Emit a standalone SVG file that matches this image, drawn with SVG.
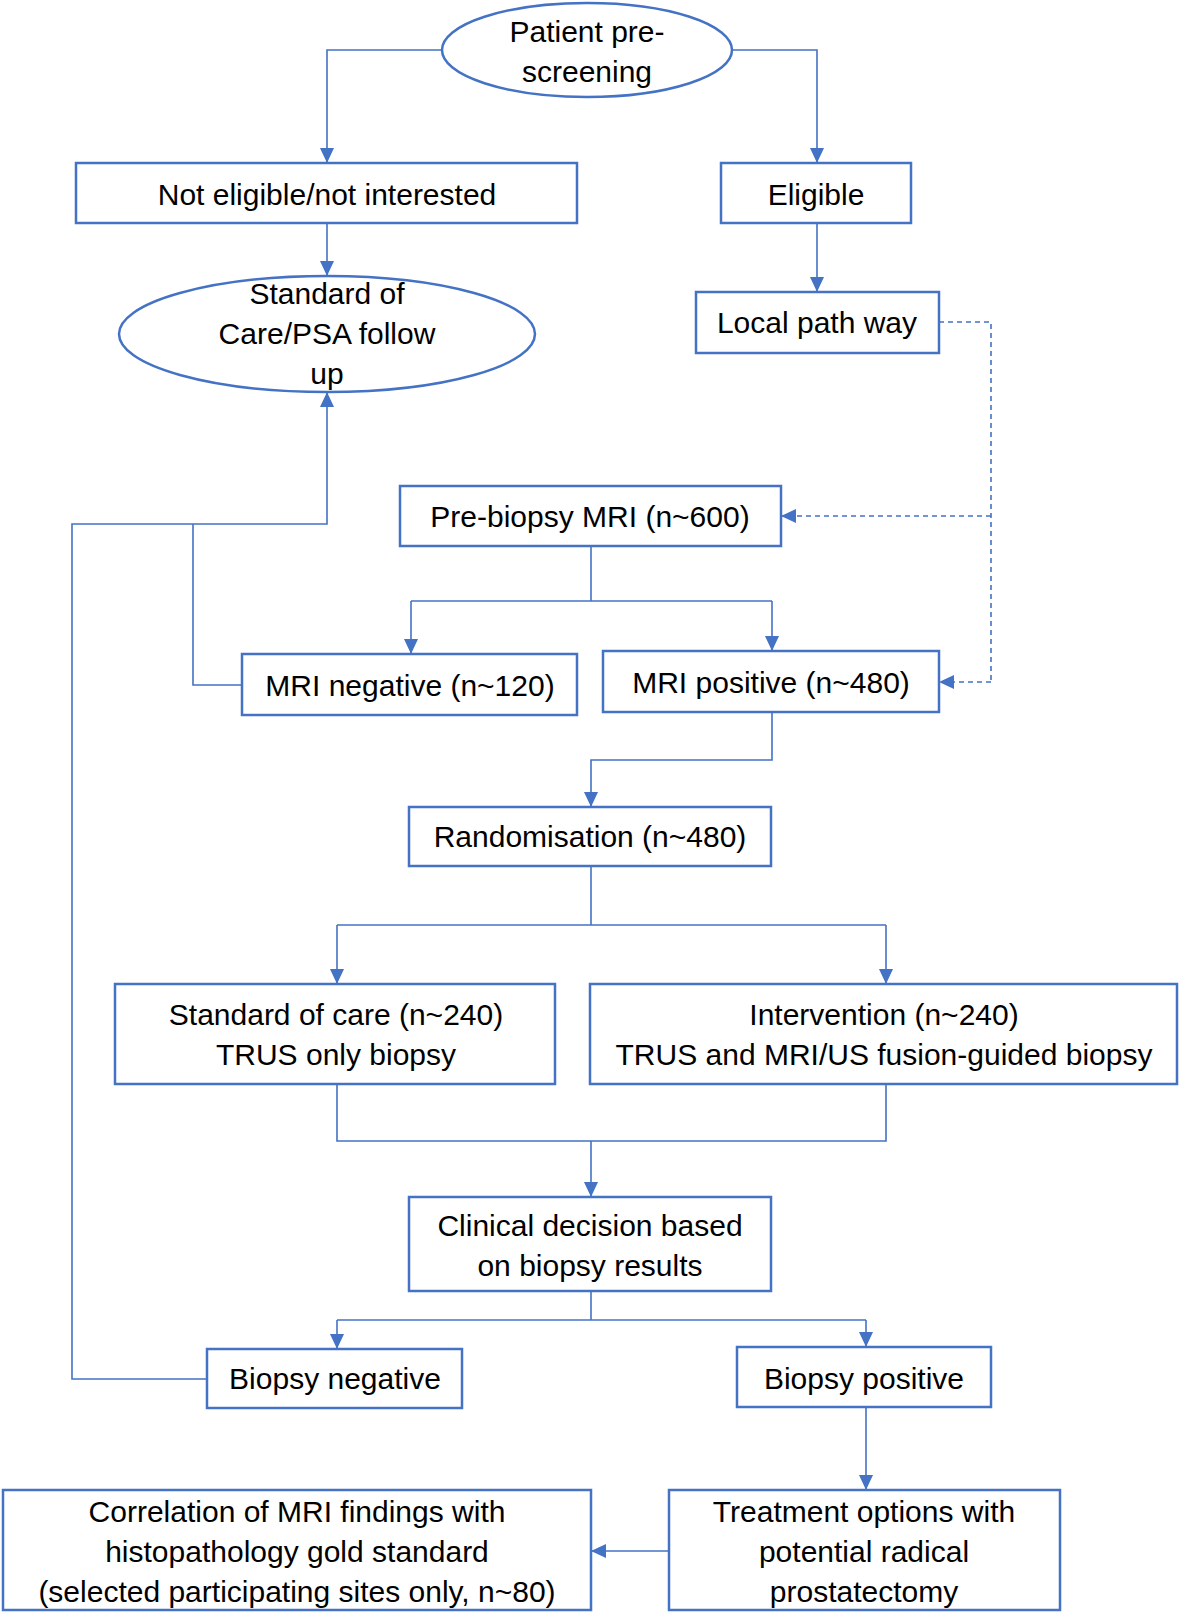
<svg xmlns="http://www.w3.org/2000/svg" width="1181" height="1615" viewBox="0 0 1181 1615">
<style>
.box{fill:#fff;stroke:#4472C4;stroke-width:2.5}
.t{font-family:"Liberation Sans",Arial,sans-serif;font-size:30px;fill:#000;text-anchor:middle;dominant-baseline:central}
.c{fill:none;stroke:#4472C4;stroke-width:1.6}
.d{fill:none;stroke:#4472C4;stroke-width:1.6;stroke-dasharray:5,4}
</style>
<defs>
<marker id="ah" markerUnits="userSpaceOnUse" markerWidth="15" markerHeight="14" viewBox="0 0 15 14" refX="15" refY="7" orient="auto">
<path d="M0,0 L15,7 L0,14 Z" fill="#4472C4"/>
</marker>
</defs>
<rect width="1181" height="1615" fill="#fff"/>
<g id="connectors">
<polyline class="c" points="442,50 327,50 327,163" marker-end="url(#ah)"/>
<polyline class="c" points="732,50 817,50 817,163" marker-end="url(#ah)"/>
<polyline class="c" points="327,223 327,276" marker-end="url(#ah)"/>
<polyline class="c" points="817,223 817,292" marker-end="url(#ah)"/>
<polyline class="d" points="939,322 991,322 991,682"/>
<polyline class="d" points="991,516 781,516" marker-end="url(#ah)"/>
<polyline class="d" points="991,682 939,682" marker-end="url(#ah)"/>
<polyline class="c" points="591,546 591,601"/>
<polyline class="c" points="411,601 772,601"/>
<polyline class="c" points="411,601 411,654" marker-end="url(#ah)"/>
<polyline class="c" points="772,601 772,651" marker-end="url(#ah)"/>
<polyline class="c" points="242,685 193,685 193,524"/>
<polyline class="c" points="207,1379 72,1379 72,524 327,524 327,392" marker-end="url(#ah)"/>
<polyline class="c" points="772,712 772,760 591,760 591,807" marker-end="url(#ah)"/>
<polyline class="c" points="591,866 591,925"/>
<polyline class="c" points="337,925 886,925"/>
<polyline class="c" points="337,925 337,984" marker-end="url(#ah)"/>
<polyline class="c" points="886,925 886,984" marker-end="url(#ah)"/>
<polyline class="c" points="337,1084 337,1141 886,1141 886,1084"/>
<polyline class="c" points="591,1141 591,1197" marker-end="url(#ah)"/>
<polyline class="c" points="591,1291 591,1320"/>
<polyline class="c" points="337,1320 866,1320"/>
<polyline class="c" points="337,1320 337,1349" marker-end="url(#ah)"/>
<polyline class="c" points="866,1320 866,1347" marker-end="url(#ah)"/>
<polyline class="c" points="866,1407 866,1490" marker-end="url(#ah)"/>
<polyline class="c" points="669,1551 591,1551" marker-end="url(#ah)"/>
</g>
<g id="n-prescreen">
<ellipse class="box" cx="587" cy="50" rx="145" ry="47"/>
<text class="t" x="587" y="31">Patient pre-</text>
<text class="t" x="587" y="71">screening</text>
</g>
<g id="n-noteligible">
<rect class="box" x="76" y="163" width="501" height="60"/>
<text class="t" x="327" y="194">Not eligible/not interested</text>
</g>
<g id="n-eligible">
<rect class="box" x="721" y="163" width="190" height="60"/>
<text class="t" x="816" y="194">Eligible</text>
</g>
<g id="n-soc-followup">
<ellipse class="box" cx="327" cy="334" rx="208" ry="58"/>
<text class="t" x="327" y="293">Standard of</text>
<text class="t" x="327" y="333">Care/PSA follow</text>
<text class="t" x="327" y="373">up</text>
</g>
<g id="n-localpath">
<rect class="box" x="696" y="292" width="243" height="61"/>
<text class="t" x="817" y="322">Local path way</text>
</g>
<g id="n-prebiopsy">
<rect class="box" x="400" y="486" width="381" height="60"/>
<text class="t" x="590" y="516">Pre-biopsy MRI (n~600)</text>
</g>
<g id="n-mrineg">
<rect class="box" x="242" y="654" width="335" height="61"/>
<text class="t" x="410" y="685">MRI negative (n~120)</text>
</g>
<g id="n-mripos">
<rect class="box" x="603" y="651" width="336" height="61"/>
<text class="t" x="771" y="682">MRI positive (n~480)</text>
</g>
<g id="n-random">
<rect class="box" x="409" y="807" width="362" height="59"/>
<text class="t" x="590" y="836">Randomisation (n~480)</text>
</g>
<g id="n-soc">
<rect class="box" x="115" y="984" width="440" height="100"/>
<text class="t" x="336" y="1014">Standard of care (n~240)</text>
<text class="t" x="336" y="1054">TRUS only biopsy</text>
</g>
<g id="n-intervention">
<rect class="box" x="590" y="984" width="587" height="100"/>
<text class="t" x="884" y="1014">Intervention (n~240)</text>
<text class="t" x="884" y="1054">TRUS and MRI/US fusion-guided biopsy</text>
</g>
<g id="n-clinical">
<rect class="box" x="409" y="1197" width="362" height="94"/>
<text class="t" x="590" y="1225">Clinical decision based</text>
<text class="t" x="590" y="1265">on biopsy results</text>
</g>
<g id="n-bxneg">
<rect class="box" x="207" y="1349" width="255" height="59"/>
<text class="t" x="335" y="1378">Biopsy negative</text>
</g>
<g id="n-bxpos">
<rect class="box" x="737" y="1347" width="254" height="60"/>
<text class="t" x="864" y="1378">Biopsy positive</text>
</g>
<g id="n-correlation">
<rect class="box" x="3" y="1490" width="588" height="120"/>
<text class="t" x="297" y="1511">Correlation of MRI findings with</text>
<text class="t" x="297" y="1551">histopathology gold standard</text>
<text class="t" x="297" y="1591">(selected participating sites only, n~80)</text>
</g>
<g id="n-treatment">
<rect class="box" x="669" y="1490" width="391" height="120"/>
<text class="t" x="864" y="1511">Treatment options with</text>
<text class="t" x="864" y="1551">potential radical</text>
<text class="t" x="864" y="1591">prostatectomy</text>
</g>
</svg>
